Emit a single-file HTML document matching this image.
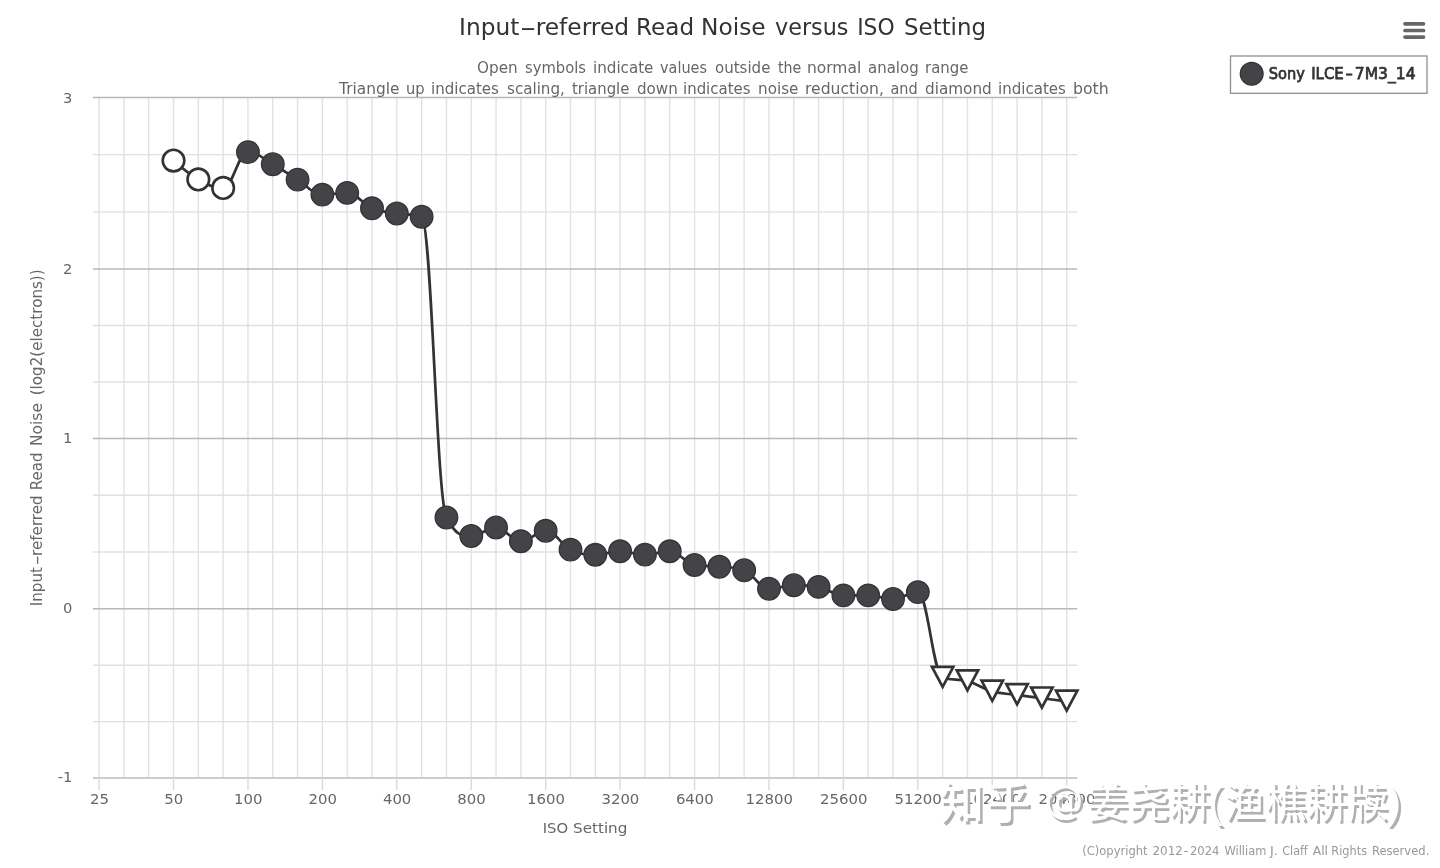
<!DOCTYPE html>
<html lang="en"><head><meta charset="utf-8"><title>Input-referred Read Noise versus ISO Setting</title>
<style>
html,body{margin:0;padding:0;background:#fff;}
body{width:1440px;height:868px;overflow:hidden;position:relative;font-family:"DejaVu Sans", "Liberation Sans", sans-serif;}
svg{position:absolute;left:0;top:0;display:block;}
svg text{font-family:"DejaVu Sans", "Liberation Sans", sans-serif;}
.wm{position:absolute;left:0;top:0;width:1440px;height:868px;font-family:"Liberation Sans", "Noto Sans CJK SC", sans-serif;color:#ffffff;text-shadow:2.4px 2.8px 0 #b0b0b0;}
.wm span{position:absolute;display:block;white-space:pre;margin:0;padding:0;}
</style></head><body>
<svg width="1440" height="868" viewBox="0 0 1440 868">
<rect x="0" y="0" width="1440" height="868" fill="#ffffff"/>
<g stroke="#e2e2e2" stroke-width="1.4" fill="none">
<path d="M 99.10 97.5 V 778.1"/>
<path d="M 123.91 97.5 V 778.1"/>
<path d="M 148.72 97.5 V 778.1"/>
<path d="M 173.53 97.5 V 778.1"/>
<path d="M 198.34 97.5 V 778.1"/>
<path d="M 223.15 97.5 V 778.1"/>
<path d="M 247.96 97.5 V 778.1"/>
<path d="M 272.77 97.5 V 778.1"/>
<path d="M 297.58 97.5 V 778.1"/>
<path d="M 322.39 97.5 V 778.1"/>
<path d="M 347.20 97.5 V 778.1"/>
<path d="M 372.01 97.5 V 778.1"/>
<path d="M 396.82 97.5 V 778.1"/>
<path d="M 421.63 97.5 V 778.1"/>
<path d="M 446.44 97.5 V 778.1"/>
<path d="M 471.25 97.5 V 778.1"/>
<path d="M 496.06 97.5 V 778.1"/>
<path d="M 520.87 97.5 V 778.1"/>
<path d="M 545.68 97.5 V 778.1"/>
<path d="M 570.49 97.5 V 778.1"/>
<path d="M 595.30 97.5 V 778.1"/>
<path d="M 620.11 97.5 V 778.1"/>
<path d="M 644.92 97.5 V 778.1"/>
<path d="M 669.73 97.5 V 778.1"/>
<path d="M 694.54 97.5 V 778.1"/>
<path d="M 719.35 97.5 V 778.1"/>
<path d="M 744.16 97.5 V 778.1"/>
<path d="M 768.97 97.5 V 778.1"/>
<path d="M 793.78 97.5 V 778.1"/>
<path d="M 818.59 97.5 V 778.1"/>
<path d="M 843.40 97.5 V 778.1"/>
<path d="M 868.21 97.5 V 778.1"/>
<path d="M 893.02 97.5 V 778.1"/>
<path d="M 917.83 97.5 V 778.1"/>
<path d="M 942.64 97.5 V 778.1"/>
<path d="M 967.45 97.5 V 778.1"/>
<path d="M 992.26 97.5 V 778.1"/>
<path d="M 1017.07 97.5 V 778.1"/>
<path d="M 1041.88 97.5 V 778.1"/>
<path d="M 1066.69 97.5 V 778.1"/>
</g>
<g stroke="#e0e0e0" stroke-width="1.4" fill="none">
<path d="M 93.0 721.67 H 1077.2"/>
<path d="M 93.0 665.23 H 1077.2"/>
<path d="M 93.0 552.00 H 1077.2"/>
<path d="M 93.0 495.20 H 1077.2"/>
<path d="M 93.0 381.93 H 1077.2"/>
<path d="M 93.0 325.47 H 1077.2"/>
<path d="M 93.0 211.83 H 1077.2"/>
<path d="M 93.0 154.67 H 1077.2"/>
</g>
<g stroke="#b8b8b8" stroke-width="1.5" fill="none">
<path d="M 93.0 97.50 H 1077.2"/>
<path d="M 93.0 269.00 H 1077.2"/>
<path d="M 93.0 438.40 H 1077.2"/>
<path d="M 93.0 608.80 H 1077.2"/>
</g>
<path d="M 93.0 778.10 H 1077.2" stroke="#cacdd5" stroke-width="2" fill="none"/>
<g stroke="#d7dae2" stroke-width="1.4" fill="none">
<path d="M 99.10 778.1 V 790.1"/>
<path d="M 173.53 778.1 V 790.1"/>
<path d="M 247.96 778.1 V 790.1"/>
<path d="M 322.39 778.1 V 790.1"/>
<path d="M 396.82 778.1 V 790.1"/>
<path d="M 471.25 778.1 V 790.1"/>
<path d="M 545.68 778.1 V 790.1"/>
<path d="M 620.11 778.1 V 790.1"/>
<path d="M 694.54 778.1 V 790.1"/>
<path d="M 768.97 778.1 V 790.1"/>
<path d="M 843.40 778.1 V 790.1"/>
<path d="M 917.83 778.1 V 790.1"/>
<path d="M 992.26 778.1 V 790.1"/>
<path d="M 1066.69 778.1 V 790.1"/>
</g>
<text y="35.2" font-size="23.8" fill="#333333"><tspan x="459.04" textLength="60.28" lengthAdjust="spacingAndGlyphs">Input</tspan><tspan x="519.86" textLength="16.68" lengthAdjust="spacingAndGlyphs">-</tspan><tspan x="535.64" textLength="93.43" lengthAdjust="spacingAndGlyphs">referred</tspan> <tspan x="636.06" textLength="57.98" lengthAdjust="spacingAndGlyphs">Read</tspan> <tspan x="701.04" textLength="64.58" lengthAdjust="spacingAndGlyphs">Noise</tspan> <tspan x="775.00" textLength="73.37" lengthAdjust="spacingAndGlyphs">versus</tspan> <tspan x="857.16" textLength="37.51" lengthAdjust="spacingAndGlyphs">ISO</tspan> <tspan x="904.04" textLength="81.99" lengthAdjust="spacingAndGlyphs">Setting</tspan></text>
<text y="73.0" font-size="15.3" fill="#666666"><tspan x="477.00" textLength="40.69" lengthAdjust="spacingAndGlyphs">Open</tspan> <tspan x="525.00" textLength="60.97" lengthAdjust="spacingAndGlyphs">symbols</tspan> <tspan x="593.01" textLength="60.39" lengthAdjust="spacingAndGlyphs">indicate</tspan> <tspan x="660.00" textLength="46.97" lengthAdjust="spacingAndGlyphs">values</tspan> <tspan x="715.00" textLength="55.40" lengthAdjust="spacingAndGlyphs">outside</tspan> <tspan x="778.00" textLength="23.38" lengthAdjust="spacingAndGlyphs">the</tspan> <tspan x="806.99" textLength="54.28" lengthAdjust="spacingAndGlyphs">normal</tspan> <tspan x="868.00" textLength="50.70" lengthAdjust="spacingAndGlyphs">analog</tspan> <tspan x="925.02" textLength="43.38" lengthAdjust="spacingAndGlyphs">range</tspan></text>
<text y="94.0" font-size="15.3" fill="#666666"><tspan x="339.01" textLength="60.41" lengthAdjust="spacingAndGlyphs">Triangle</tspan> <tspan x="406.04" textLength="18.64" lengthAdjust="spacingAndGlyphs">up</tspan> <tspan x="431.02" textLength="67.95" lengthAdjust="spacingAndGlyphs">indicates</tspan> <tspan x="507.00" textLength="57.85" lengthAdjust="spacingAndGlyphs">scaling,</tspan> <tspan x="572.00" textLength="57.40" lengthAdjust="spacingAndGlyphs">triangle</tspan> <tspan x="637.00" textLength="40.69" lengthAdjust="spacingAndGlyphs">down</tspan> <tspan x="683.02" textLength="67.45" lengthAdjust="spacingAndGlyphs">indicates</tspan> <tspan x="758.01" textLength="40.40" lengthAdjust="spacingAndGlyphs">noise</tspan> <tspan x="804.98" textLength="78.90" lengthAdjust="spacingAndGlyphs">reduction,</tspan> <tspan x="890.50" textLength="27.17" lengthAdjust="spacingAndGlyphs">and</tspan> <tspan x="925.00" textLength="66.71" lengthAdjust="spacingAndGlyphs">diamond</tspan> <tspan x="998.02" textLength="67.95" lengthAdjust="spacingAndGlyphs">indicates</tspan> <tspan x="1072.97" textLength="35.74" lengthAdjust="spacingAndGlyphs">both</tspan></text>
<text x="72.4" y="102.9" text-anchor="end" font-size="14.7" fill="#666666">3</text>
<text x="72.4" y="273.5" text-anchor="end" font-size="14.7" fill="#666666">2</text>
<text x="72.4" y="442.6" text-anchor="end" font-size="14.7" fill="#666666">1</text>
<text x="72.4" y="612.5" text-anchor="end" font-size="14.7" fill="#666666">0</text>
<text x="72.4" y="781.6" text-anchor="end" font-size="14.7" fill="#666666">-1</text>
<text y="0" font-size="15.4" fill="#666666" transform="translate(41.9 605.3) rotate(-90)"><tspan x="-0.98" textLength="39.22" lengthAdjust="spacingAndGlyphs">Input</tspan><tspan x="40.00" textLength="10.00" lengthAdjust="spacingAndGlyphs">-</tspan><tspan x="49.42" textLength="60.54" lengthAdjust="spacingAndGlyphs">referred</tspan> <tspan x="115.13" textLength="37.62" lengthAdjust="spacingAndGlyphs">Read</tspan> <tspan x="159.29" textLength="42.98" lengthAdjust="spacingAndGlyphs">Noise</tspan> <tspan x="210.02" textLength="125.97" lengthAdjust="spacingAndGlyphs">(log2(electrons))</tspan></text>
<text x="99.40" y="804.4" text-anchor="middle" font-size="14.9" fill="#666666">25</text>
<text x="173.83" y="804.4" text-anchor="middle" font-size="14.9" fill="#666666">50</text>
<text x="248.26" y="804.4" text-anchor="middle" font-size="14.9" fill="#666666">100</text>
<text x="322.69" y="804.4" text-anchor="middle" font-size="14.9" fill="#666666">200</text>
<text x="397.12" y="804.4" text-anchor="middle" font-size="14.9" fill="#666666">400</text>
<text x="471.55" y="804.4" text-anchor="middle" font-size="14.9" fill="#666666">800</text>
<text x="545.98" y="804.4" text-anchor="middle" font-size="14.9" fill="#666666">1600</text>
<text x="620.41" y="804.4" text-anchor="middle" font-size="14.9" fill="#666666">3200</text>
<text x="694.84" y="804.4" text-anchor="middle" font-size="14.9" fill="#666666">6400</text>
<text x="769.27" y="804.4" text-anchor="middle" font-size="14.9" fill="#666666">12800</text>
<text x="843.70" y="804.4" text-anchor="middle" font-size="14.9" fill="#666666">25600</text>
<text x="918.13" y="804.4" text-anchor="middle" font-size="14.9" fill="#666666">51200</text>
<text x="992.56" y="804.4" text-anchor="middle" font-size="14.9" fill="#666666">102400</text>
<text x="1066.99" y="804.4" text-anchor="middle" font-size="14.9" fill="#666666">204800</text>
<text y="832.5" font-size="14.8" fill="#666666"><tspan x="542.75" textLength="25.40" lengthAdjust="spacingAndGlyphs">ISO</tspan> <tspan x="573.00" textLength="54.40" lengthAdjust="spacingAndGlyphs">Setting</tspan></text>
<path d="M 173.53 160.60 C 173.53 160.60 188.42 173.94 198.34 179.40 C 208.26 184.86 213.23 187.90 223.15 187.90 C 233.07 187.90 238.04 152.10 247.96 152.10 C 257.88 152.10 262.85 158.70 272.77 164.20 C 282.69 169.70 287.66 173.52 297.58 179.60 C 307.50 185.68 312.47 194.60 322.39 194.60 C 332.31 194.60 337.28 192.90 347.20 192.90 C 357.12 192.90 362.09 204.18 372.01 208.30 C 381.93 212.42 386.90 211.82 396.82 213.50 C 406.74 215.18 411.71 213.50 421.63 216.70 C 431.55 219.90 436.52 499.00 446.44 517.50 C 456.36 536.00 461.33 536.00 471.25 536.00 C 481.17 536.00 486.14 527.50 496.06 527.50 C 505.98 527.50 510.95 541.30 520.87 541.30 C 530.79 541.30 535.76 530.80 545.68 530.80 C 555.60 530.80 560.57 544.80 570.49 549.60 C 580.41 554.40 585.38 554.80 595.30 554.80 C 605.22 554.80 610.19 551.30 620.11 551.30 C 630.03 551.30 635.00 554.60 644.92 554.60 C 654.84 554.60 659.81 551.30 669.73 551.30 C 679.65 551.30 684.62 563.30 694.54 565.00 C 704.46 566.70 709.43 565.66 719.35 566.70 C 729.27 567.74 734.24 566.70 744.16 570.20 C 754.08 573.70 759.05 588.75 768.97 588.75 C 778.89 588.75 783.86 585.20 793.78 585.20 C 803.70 585.20 808.67 585.20 818.59 586.90 C 828.51 588.60 833.48 595.40 843.40 595.40 C 853.32 595.40 858.29 595.40 868.21 595.40 C 878.13 595.40 883.10 599.00 893.02 599.00 C 902.94 599.00 907.91 592.10 917.83 592.10 C 927.75 592.10 932.72 674.00 942.64 677.50 C 952.56 681.00 957.53 678.22 967.45 681.00 C 977.37 683.78 982.34 688.62 992.26 691.40 C 1002.18 694.18 1007.15 693.54 1017.07 694.90 C 1026.99 696.26 1031.96 696.92 1041.88 698.20 C 1051.80 699.48 1066.69 701.30 1066.69 701.30" fill="none" stroke="#333336" stroke-width="2.7" stroke-linejoin="round" stroke-linecap="round"/>
<circle cx="173.53" cy="160.60" r="10.8" fill="#ffffff" stroke="#333336" stroke-width="2.6"/>
<circle cx="198.34" cy="179.40" r="10.8" fill="#ffffff" stroke="#333336" stroke-width="2.6"/>
<circle cx="223.15" cy="187.90" r="10.8" fill="#ffffff" stroke="#333336" stroke-width="2.6"/>
<circle cx="247.96" cy="152.10" r="11.3" fill="#434348" stroke="#333336" stroke-width="1.3"/>
<circle cx="272.77" cy="164.20" r="11.3" fill="#434348" stroke="#333336" stroke-width="1.3"/>
<circle cx="297.58" cy="179.60" r="11.3" fill="#434348" stroke="#333336" stroke-width="1.3"/>
<circle cx="322.39" cy="194.60" r="11.3" fill="#434348" stroke="#333336" stroke-width="1.3"/>
<circle cx="347.20" cy="192.90" r="11.3" fill="#434348" stroke="#333336" stroke-width="1.3"/>
<circle cx="372.01" cy="208.30" r="11.3" fill="#434348" stroke="#333336" stroke-width="1.3"/>
<circle cx="396.82" cy="213.50" r="11.3" fill="#434348" stroke="#333336" stroke-width="1.3"/>
<circle cx="421.63" cy="216.70" r="11.3" fill="#434348" stroke="#333336" stroke-width="1.3"/>
<circle cx="446.44" cy="517.50" r="11.3" fill="#434348" stroke="#333336" stroke-width="1.3"/>
<circle cx="471.25" cy="536.00" r="11.3" fill="#434348" stroke="#333336" stroke-width="1.3"/>
<circle cx="496.06" cy="527.50" r="11.3" fill="#434348" stroke="#333336" stroke-width="1.3"/>
<circle cx="520.87" cy="541.30" r="11.3" fill="#434348" stroke="#333336" stroke-width="1.3"/>
<circle cx="545.68" cy="530.80" r="11.3" fill="#434348" stroke="#333336" stroke-width="1.3"/>
<circle cx="570.49" cy="549.60" r="11.3" fill="#434348" stroke="#333336" stroke-width="1.3"/>
<circle cx="595.30" cy="554.80" r="11.3" fill="#434348" stroke="#333336" stroke-width="1.3"/>
<circle cx="620.11" cy="551.30" r="11.3" fill="#434348" stroke="#333336" stroke-width="1.3"/>
<circle cx="644.92" cy="554.60" r="11.3" fill="#434348" stroke="#333336" stroke-width="1.3"/>
<circle cx="669.73" cy="551.30" r="11.3" fill="#434348" stroke="#333336" stroke-width="1.3"/>
<circle cx="694.54" cy="565.00" r="11.3" fill="#434348" stroke="#333336" stroke-width="1.3"/>
<circle cx="719.35" cy="566.70" r="11.3" fill="#434348" stroke="#333336" stroke-width="1.3"/>
<circle cx="744.16" cy="570.20" r="11.3" fill="#434348" stroke="#333336" stroke-width="1.3"/>
<circle cx="768.97" cy="588.75" r="11.3" fill="#434348" stroke="#333336" stroke-width="1.3"/>
<circle cx="793.78" cy="585.20" r="11.3" fill="#434348" stroke="#333336" stroke-width="1.3"/>
<circle cx="818.59" cy="586.90" r="11.3" fill="#434348" stroke="#333336" stroke-width="1.3"/>
<circle cx="843.40" cy="595.40" r="11.3" fill="#434348" stroke="#333336" stroke-width="1.3"/>
<circle cx="868.21" cy="595.40" r="11.3" fill="#434348" stroke="#333336" stroke-width="1.3"/>
<circle cx="893.02" cy="599.00" r="11.3" fill="#434348" stroke="#333336" stroke-width="1.3"/>
<circle cx="917.83" cy="592.10" r="11.3" fill="#434348" stroke="#333336" stroke-width="1.3"/>
<path d="M 931.94 666.80 L 953.34 666.80 L 942.64 686.90 Z" fill="#ffffff" stroke="#333336" stroke-width="2.7" stroke-linejoin="miter"/>
<path d="M 956.75 670.30 L 978.15 670.30 L 967.45 690.40 Z" fill="#ffffff" stroke="#333336" stroke-width="2.7" stroke-linejoin="miter"/>
<path d="M 981.56 680.70 L 1002.96 680.70 L 992.26 700.80 Z" fill="#ffffff" stroke="#333336" stroke-width="2.7" stroke-linejoin="miter"/>
<path d="M 1006.37 684.20 L 1027.77 684.20 L 1017.07 704.30 Z" fill="#ffffff" stroke="#333336" stroke-width="2.7" stroke-linejoin="miter"/>
<path d="M 1031.18 687.50 L 1052.58 687.50 L 1041.88 707.60 Z" fill="#ffffff" stroke="#333336" stroke-width="2.7" stroke-linejoin="miter"/>
<path d="M 1055.99 690.60 L 1077.39 690.60 L 1066.69 710.70 Z" fill="#ffffff" stroke="#333336" stroke-width="2.7" stroke-linejoin="miter"/>
<rect x="1230.5" y="56" width="196.5" height="37.3" fill="#ffffff" stroke="#8f8f8f" stroke-width="1.3"/>
<circle cx="1251.7" cy="73.8" r="11.4" fill="#434348" stroke="#333336" stroke-width="1.3"/>
<text y="79.0" font-size="16.2" fill="#333333" stroke="#333333" stroke-width="0.75"><tspan x="1268.80" textLength="36.12" lengthAdjust="spacingAndGlyphs">Sony</tspan> <tspan x="1311.18" textLength="32.63" lengthAdjust="spacingAndGlyphs">ILCE</tspan><tspan x="1345.60" textLength="7.40" lengthAdjust="spacingAndGlyphs">-</tspan><tspan x="1354.74" textLength="60.85" lengthAdjust="spacingAndGlyphs">7M3_14</tspan></text>
<g stroke="#666666" stroke-width="3.7" stroke-linecap="round" fill="none">
<path d="M 1405 23.8 H 1423.5"/>
<path d="M 1405 30.5 H 1423.5"/>
<path d="M 1405 37.1 H 1423.5"/>
</g>
<text y="855.1" font-size="13.0" fill="#999999"><tspan x="1082.21" textLength="65.37" lengthAdjust="spacingAndGlyphs">(C)opyright</tspan> <tspan x="1152.50" textLength="30.37" lengthAdjust="spacingAndGlyphs">2012</tspan><tspan x="1183.40" textLength="4.88" lengthAdjust="spacingAndGlyphs">-</tspan><tspan x="1190.00" textLength="29.44" lengthAdjust="spacingAndGlyphs">2024</tspan> <tspan x="1224.40" textLength="41.98" lengthAdjust="spacingAndGlyphs">William</tspan> <tspan x="1269.90" textLength="7.93" lengthAdjust="spacingAndGlyphs">J.</tspan> <tspan x="1282.20" textLength="25.65" lengthAdjust="spacingAndGlyphs">Claff</tspan> <tspan x="1312.70" textLength="15.38" lengthAdjust="spacingAndGlyphs">All</tspan> <tspan x="1331.33" textLength="35.77" lengthAdjust="spacingAndGlyphs">Rights</tspan> <tspan x="1371.91" textLength="57.39" lengthAdjust="spacingAndGlyphs">Reserved.</tspan></text>
</svg>
<div class="wm"><span style="left:939.6px;top:781.73px;font-size:44.5px;line-height:44.5px;height:44.5px;font-weight:500;">知</span><span style="left:986.0px;top:781.73px;font-size:44.5px;line-height:44.5px;height:44.5px;font-weight:500;">乎 </span><span style="left:1044.5px;top:780.01px;font-size:39.0px;line-height:39.0px;height:39.0px;font-family:&quot;DejaVu Sans&quot;,&quot;Liberation Sans&quot;,sans-serif;">@</span><span style="left:1087.1px;top:783.12px;font-size:41.2px;line-height:41.2px;height:41.2px;">姜尧耕</span><span style="left:1208.2px;top:780.03px;font-size:44.5px;line-height:44.5px;height:44.5px;">(</span><span style="left:1224.1px;top:783.12px;font-size:41.2px;line-height:41.2px;height:41.2px;">渔樵耕牍</span><span style="left:1386.6px;top:780.03px;font-size:44.5px;line-height:44.5px;height:44.5px;">)</span></div>
</body></html>
